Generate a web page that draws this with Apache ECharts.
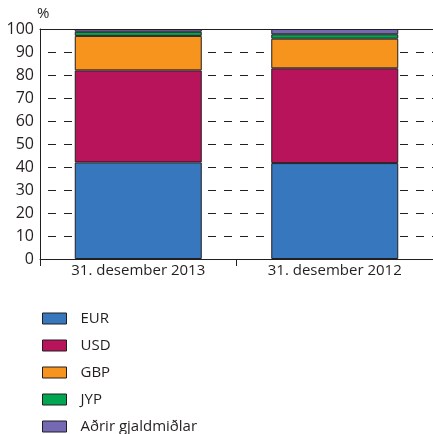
<!DOCTYPE html>
<html>
<head>
<meta charset="utf-8">
<script src="https://cdn.jsdelivr.net/npm/echarts@6/dist/echarts.min.js"></script>
<style>
  html, body { margin: 0; padding: 0; background: #fff; }
  #chart { width: 433px; height: 434px; }
</style>
</head>
<body>
<div id="chart"></div>
<script>
const categories = ['31. desember 2013', '31. desember 2012']
const seriesNames = ['EUR', 'USD', 'GBP', 'JYP', 'Aðrir gjaldmiðlar']
const eur = [42, 41.7]
const usd = [40, 41.2]
const gbp = [15, 12.9]
const jyp = [1.8, 1.9]
const other = [1.2, 2.3]
const colors = ['#3777bd', '#b8145b', '#f7941e', '#00a650', '#7669b4']

const font = '"Open Sans", sans-serif'
const values = [eur, usd, gbp, jyp, other]

const chart = echarts.init(document.getElementById('chart'))
chart.setOption({
  animation: false,
  textStyle: { fontFamily: font },
  grid: { left: 40, right: -3, top: 29, bottom: 175 },
  legend: {
    orient: 'vertical',
    left: 37,
    top: 306,
    height: 130,
    itemWidth: 24,
    itemHeight: 11,
    itemGap: 12,
    icon: 'rect',
    itemStyle: { borderColor: '#231f20', borderWidth: 1 },
    textStyle: { fontFamily: font, fontSize: 15, color: '#231f20', padding: [0, 0, 0, 9] },
    data: seriesNames
  },
  xAxis: [{
    type: 'category',
    data: categories,
    axisLine: { lineStyle: { color: '#231f20', width: 1 } },
    axisTick: { show: true, length: 7, lineStyle: { color: '#231f20' } },
    axisLabel: { color: '#231f20', fontSize: 15, fontFamily: font, margin: 4 }
  }, {
    type: 'category',
    position: 'top',
    data: categories,
    axisLine: { lineStyle: { color: '#231f20', width: 1 } },
    axisTick: { show: false },
    axisLabel: { show: false }
  }],
  yAxis: {
    type: 'value',
    min: 0,
    max: 100,
    interval: 10,
    name: '%',
    nameGap: 3,
    nameTextStyle: { color: '#231f20', fontSize: 15, fontFamily: font, align: 'left', padding: [0, 0, 0, -3] },
    axisLine: { show: true, lineStyle: { color: '#231f20', width: 1 } },
    axisTick: { show: false },
    axisLabel: { color: '#231f20', fontSize: 16, fontFamily: font, margin: 6 },
    splitLine: { show: true, lineStyle: { color: '#231f20', width: 1, type: [8, 8], dashOffset: 8 } }
  },
  series: seriesNames.map((name, i) => ({
    name,
    type: 'bar',
    stack: 'total',
    xAxisIndex: 0,
    barWidth: 127,
    data: values[i],
    itemStyle: { color: colors[i], borderColor: '#231f20', borderWidth: 1 }
  }))
})
</script>
</body>
</html>
